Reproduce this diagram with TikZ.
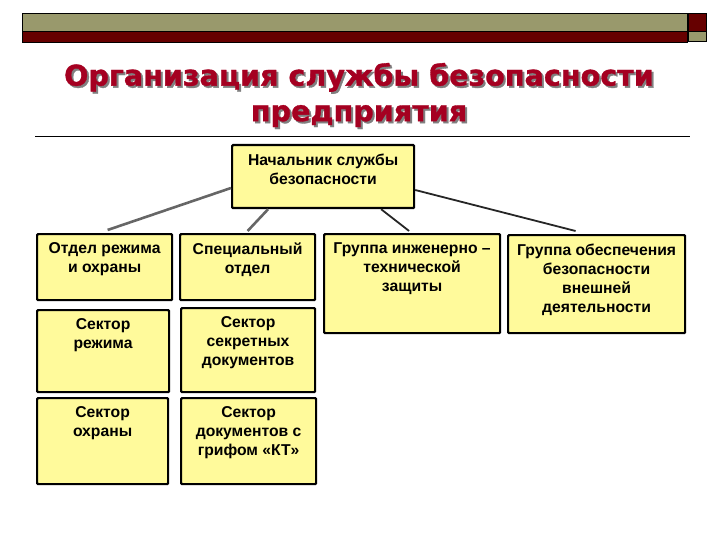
\documentclass[tikz,border=0pt]{standalone}
\usepackage{fontspec}
\setmainfont{Liberation Sans}
\newfontfamily\titlefont[FakeBold=1.2]{DejaVu Sans}
\usetikzlibrary{calc}
\definecolor{olivebar}{RGB}{153,153,108}
\definecolor{maroonbar}{RGB}{102,0,0}
\definecolor{titlered}{RGB}{165,0,33}
\definecolor{boxfill}{RGB}{255,250,155}
\tikzset{
  box/.style={draw=black, line width=2.2pt, fill=boxfill, rounded corners=1pt, anchor=north west, inner sep=0pt},
  boxtext/.style={anchor=north, inner sep=0pt, yshift=-9.5pt, align=center, font=\fontsize{15.7}{19}\selectfont\bfseries, text=black},
  lnL/.style={draw=black!60, line width=2.6pt},
  lnR/.style={draw=black!85, line width=1.8pt},
  titlestyle/.style={align=center, font=\titlefont\bfseries\fontsize{28.6}{35.5}\selectfont}
}
\begin{document}
\begin{tikzpicture}[x=1pt,y=-1pt]
\useasboundingbox (0,0) rectangle (720,540);
% top bars
\draw[fill=olivebar, line width=0.6pt] (22,13) rectangle (687,31);
\draw[fill=maroonbar, line width=0.6pt] (22,31) rectangle (687,42);
\draw[fill=maroonbar, line width=0.6pt] (688,13) rectangle (706,31);
\draw[fill=olivebar, line width=0.6pt] (688,31) rectangle (706,41);
% title
\node[titlestyle, text=black!50] (titleshadow) at (361,97) {Организация службы безопасности\\предприятия};
\node[titlestyle, text=titlered] (title) at (359,95) {Организация службы безопасности\\предприятия};
\draw[line width=1pt] (35,137) -- (690,137);
% boxes
\node[box, minimum width=182pt, minimum height=63pt] (head) at (231,144) {};
\node[boxtext] (headt) at (head.north) {Начальник службы\\безопасности};
\node[box, minimum width=135pt, minimum height=66pt] (b1) at (36,233) {};
\node[boxtext] (b1t) at (b1.north) {Отдел режима\\и охраны};
\node[box, minimum width=135pt, minimum height=66pt] (b2) at (179,233) {};
\node[boxtext] (b2t) at (b2.north) {Специальный\\отдел};
\node[box, minimum width=176pt, minimum height=99pt] (b3) at (323,233) {};
\node[boxtext] (b3t) at (b3.north) {Группа инженерно –\\технической\\защиты};
\node[box, minimum width=177pt, minimum height=98pt] (b4) at (507,234) {};
\node[boxtext] (b4t) at (b4.north) {Группа обеспечения\\безопасности\\внешней\\деятельности};
\node[box, minimum width=132pt, minimum height=82pt] (b5) at (36,309) {};
\node[boxtext] (b5t) at (b5.north) {Сектор\\режима};
\node[box, minimum width=134pt, minimum height=84pt] (b6) at (180,307) {};
\node[boxtext] (b6t) at (b6.north) {Сектор\\секретных\\документов};
\node[box, minimum width=131pt, minimum height=86pt] (b7) at (36,397) {};
\node[boxtext] (b7t) at (b7.north) {Сектор\\охраны};
\node[box, minimum width=135pt, minimum height=86pt] (b8) at (180,397) {};
\node[boxtext] (b8t) at (b8.north) {Сектор\\документов с\\грифом «КТ»};
% connectors
\draw[lnL] ([yshift=-44pt]head.north west) -- ([xshift=3pt,yshift=3pt]b1.north);
\draw[lnL] ([xshift=-55pt]head.south) -- ([yshift=2pt]b2.north);
\draw[lnR] ([xshift=58pt]head.south) -- ([xshift=-3pt,yshift=2pt]b3.north);
\draw[lnR] ([yshift=-46pt]head.north east) -- ([xshift=-21pt,yshift=3pt]b4.north);
\end{tikzpicture}
\end{document}
